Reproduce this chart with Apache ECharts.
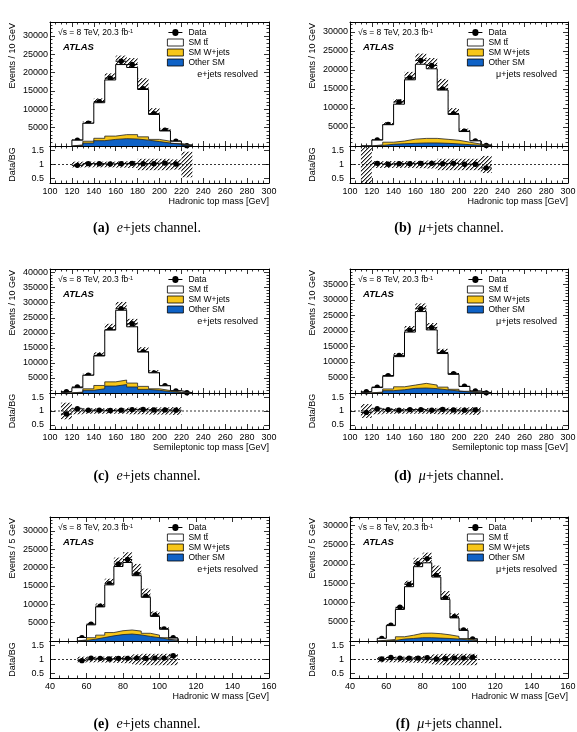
<!DOCTYPE html>
<html>
<head>
<meta charset="utf-8">
<script src="https://cdn.jsdelivr.net/npm/echarts@6/dist/echarts.min.js"></script>
<style>
  html, body { margin: 0; padding: 0; background: #fff; }
  #chart { width: 577px; height: 732px; }
</style>
</head>
<body>
<div id="chart"></div>
<script>
// bin low edges
const hadTopBinsE = [120, 130, 140, 150, 160, 170, 180, 190, 200, 210, 220]
const hadTopBinsMu = [110, 120, 130, 140, 150, 160, 170, 180, 190, 200, 210, 220]
const semiTopBins = [110, 120, 130, 140, 150, 160, 170, 180, 190, 200, 210, 220]
const hadWBins = [55, 60, 65, 70, 75, 80, 85, 90, 95, 100, 105]

// (a) e+jets, hadronic top mass
const dataA = [1600, 6200, 12100, 18500, 23100, 22200, 15600, 8800, 4300, 1300, 100]
const ttA = [1300, 4900, 9700, 15300, 19100, 18300, 12900, 6800, 2800, 600, 50]
const wjA = [150, 500, 650, 900, 1100, 1200, 900, 600, 500, 250, 100]
const othA = [150, 800, 1450, 1800, 2000, 1900, 1600, 1200, 800, 450, 100]
const ratioA = [0.97, 1.03, 1.03, 1.02, 1.03, 1.04, 1.03, 1.03, 1.05, 1.02, null]
const uncA = [0.1, 0.1, 0.1, 0.1, 0.11, 0.12, 0.2, 0.2, 0.2, 0.18, 0.45]

// (b) mu+jets, hadronic top mass
const dataB = [null, 1600, 5650, 11600, 17900, 22500, 21150, 15000, 8500, 3900, 1350, 150]
const ttB = [10, 1250, 4600, 9700, 15600, 19500, 18300, 12950, 6800, 2800, 850, 100]
const wjB = [5, 150, 550, 700, 1100, 1200, 1200, 1050, 950, 650, 300, 100]
const othB = [5, 150, 450, 600, 700, 800, 800, 700, 550, 350, 200, 50]
const ratioB = [null, 1.04, 1.01, 1.03, 1.03, 1.04, 1.04, 1.03, 1.04, 1.01, 1.01, 0.88]
const uncB = [1.0, 0.12, 0.12, 0.12, 0.12, 0.13, 0.14, 0.2, 0.2, 0.2, 0.2, 0.3]

// (c) e+jets, semileptonic top mass
const dataC = [450, 2000, 5900, 12500, 21000, 28000, 23000, 13700, 6700, 2450, 700, 60]
const ttC = [450, 1450, 4500, 9800, 17200, 23200, 18700, 11400, 5300, 1600, 450, 50]
const wjC = [30, 150, 500, 1100, 1400, 1500, 1300, 1000, 500, 350, 150, 30]
const othC = [20, 150, 900, 1400, 2300, 2800, 2000, 1200, 900, 450, 150, 20]
const ratioC = [0.89, 1.08, 1.03, 1.03, 1.02, 1.03, 1.05, 1.06, 1.04, 1.04, 1.03, null]
const uncC = [0.3, 0.12, 0.1, 0.1, 0.1, 0.1, 0.12, 0.12, 0.13, 0.13, 0.14, 0]

// (d) mu+jets, semileptonic top mass
const dataD = [400, 1900, 5600, 12100, 20200, 27100, 21000, 13000, 6200, 2150, 620, 50]
const ttD = [370, 1450, 4100, 9700, 17050, 23100, 17750, 10800, 4800, 1550, 400, 70]
const wjD = [30, 200, 550, 950, 1050, 1500, 1150, 900, 550, 250, 100, 20]
const othD = [20, 100, 750, 1050, 1500, 1600, 1400, 1000, 650, 300, 100, 10]
const ratioD = [0.95, 1.08, 1.05, 1.03, 1.05, 1.05, 1.03, 1.06, 1.04, 1.03, 1.04, null]
const uncD = [0.25, 0.12, 0.1, 0.1, 0.1, 0.1, 0.11, 0.12, 0.12, 0.13, 0.14, 0]

// (e) e+jets, hadronic W mass
const dataE = [900, 4600, 9500, 15600, 21000, 22200, 18300, 12200, 7000, 3300, 900]
const ttE = [650, 3500, 7700, 13000, 17500, 18400, 15100, 9800, 5100, 2300, 500]
const wjE = [150, 400, 650, 900, 1050, 1100, 1050, 850, 700, 400, 150]
const othE = [150, 500, 950, 1400, 1750, 1900, 1650, 1250, 900, 500, 150]
const ratioE = [0.96, 1.05, 1.04, 1.02, 1.04, 1.04, 1.05, 1.04, 1.05, 1.05, 1.13]
const uncE = [0.1, 0.1, 0.1, 0.11, 0.12, 0.13, 0.18, 0.2, 0.2, 0.2, 0.2]

// (f) mu+jets, hadronic W mass
const dataF = [650, 4100, 8750, 14700, 20100, 21400, 17000, 11200, 6300, 2850, 500]
const ttF = [500, 3600, 7100, 12600, 17300, 18250, 14700, 9200, 4800, 2100, 350]
const wjF = [150, 250, 600, 850, 1150, 1200, 1150, 950, 700, 350, 100]
const othF = [50, 150, 500, 650, 850, 850, 750, 650, 500, 300, 100]
const ratioF = [1.02, 1.07, 1.05, 1.05, 1.05, 1.06, 1.02, 1.03, 1.05, 1.05, 1.08]
const uncF = [0.1, 0.1, 0.1, 0.11, 0.12, 0.13, 0.18, 0.2, 0.2, 0.2, 0.2]

// axis ranges / ticks
const mainYMax = [33800, 32600, 41200, 39900, 33800, 32200]
const ratioTicks = [0.5, 1, 1.5]
const ratioMin = 0.35
const ratioMax = 1.65

const fontSans = '"Liberation Sans", Arial, sans-serif'
const fontSerif = '"Liberation Serif", "Times New Roman", serif'
const colLeft = [50, 350]
const colWidth = [219, 218]
const rowTop = [22, 269, 517]
const mainH = 124
const ratioH = [37, 36, 37]
const captionX = [147, 449]
const captionY = [228, 476, 724]
const yellow = '#f7c619'
const blue = '#0f62c6'

const panels = [
  { tag: 'a', chan: 'e', col: 0, row: 0, bins: hadTopBinsE, w: 10, xMin: 100, xMax: 300, data: dataA, tt: ttA, wj: wjA, oth: othA, ratio: ratioA, unc: uncA, xTitle: 'Hadronic top mass [GeV]', yTitle: 'Events / 10 GeV' },
  { tag: 'b', chan: 'μ', col: 1, row: 0, bins: hadTopBinsMu, w: 10, xMin: 100, xMax: 300, data: dataB, tt: ttB, wj: wjB, oth: othB, ratio: ratioB, unc: uncB, xTitle: 'Hadronic top mass [GeV]', yTitle: 'Events / 10 GeV' },
  { tag: 'c', chan: 'e', col: 0, row: 1, bins: semiTopBins, w: 10, xMin: 100, xMax: 300, data: dataC, tt: ttC, wj: wjC, oth: othC, ratio: ratioC, unc: uncC, xTitle: 'Semileptonic top mass [GeV]', yTitle: 'Events / 10 GeV' },
  { tag: 'd', chan: 'μ', col: 1, row: 1, bins: semiTopBins, w: 10, xMin: 100, xMax: 300, data: dataD, tt: ttD, wj: wjD, oth: othD, ratio: ratioD, unc: uncD, xTitle: 'Semileptonic top mass [GeV]', yTitle: 'Events / 10 GeV' },
  { tag: 'e', chan: 'e', col: 0, row: 2, bins: hadWBins, w: 5, xMin: 40, xMax: 160, data: dataE, tt: ttE, wj: wjE, oth: othE, ratio: ratioE, unc: uncE, xTitle: 'Hadronic W mass [GeV]', yTitle: 'Events / 5 GeV' },
  { tag: 'f', chan: 'μ', col: 1, row: 2, bins: hadWBins, w: 5, xMin: 40, xMax: 160, data: dataF, tt: ttF, wj: wjF, oth: othF, ratio: ratioF, unc: uncF, xTitle: 'Hadronic W mass [GeV]', yTitle: 'Events / 5 GeV' }
]

// diagonal hatching used for the uncertainty bands
const hatch = document.createElement('canvas')
hatch.width = 4
hatch.height = 4
const hctx = hatch.getContext('2d')
for (let i = 0; i < 4; i++) {
  hctx.fillStyle = 'rgba(20,20,20,0.95)'
  hctx.fillRect(i, 3 - i, 1, 1)
  hctx.fillStyle = 'rgba(20,20,20,0.4)'
  hctx.fillRect(i, (4 - i) % 4, 1, 1)
}
const hatchFill = { image: hatch, repeat: 'repeat' }

function sum(...arrs) {
  return arrs[0].map((_, i) => arrs.reduce((s, a) => s + (a[i] || 0), 0))
}

// histogram outline points for a step line
function stepPoints(bins, w, vals) {
  const pts = [[bins[0], 0]]
  bins.forEach((b, i) => pts.push([b, vals[i]]))
  pts.push([bins[bins.length - 1] + w, 0])
  return pts
}

function bandRender(params, api) {
  const a = api.coord([api.value(0), api.value(3)])
  const b = api.coord([api.value(1), api.value(2)])
  return {
    type: 'rect',
    shape: { x: a[0], y: a[1], width: b[0] - a[0], height: b[1] - a[1] },
    style: { fill: hatchFill }
  }
}

function pointRender(params, api) {
  const c = api.coord([api.value(0), api.value(1)])
  const l = api.coord([api.value(0) - api.value(2), api.value(1)])
  const r = api.coord([api.value(0) + api.value(2), api.value(1)])
  return {
    type: 'group',
    children: [
      { type: 'line', shape: { x1: l[0], y1: c[1], x2: r[0], y2: c[1] }, style: { stroke: '#000', lineWidth: 1 } },
      { type: 'circle', shape: { cx: c[0], cy: c[1], r: 2.7 }, style: { fill: '#000' } }
    ]
  }
}

function xAx(gridIndex, P, position, labels) {
  return {
    type: 'value', gridIndex, position, min: P.xMin, max: P.xMax, interval: 20,
    axisLine: { show: true, onZero: false, lineStyle: { color: '#000', width: 1 } },
    axisTick: { show: true, inside: true, length: 5, lineStyle: { color: '#000', width: 0.8 } },
    minorTick: { show: true, splitNumber: 4, length: 2.5, lineStyle: { color: '#000', width: 0.8 } },
    axisLabel: { show: labels, margin: 4, fontSize: 9, color: '#000', fontFamily: fontSans },
    splitLine: { show: false }
  }
}

function yMainAx(gridIndex, max, position, labels) {
  return {
    type: 'value', gridIndex, position, min: 0, max, interval: 5000,
    axisLine: { show: true, onZero: false, lineStyle: { color: '#000', width: 1 } },
    axisTick: { show: true, inside: true, length: 5, lineStyle: { color: '#000', width: 0.8 } },
    minorTick: { show: true, splitNumber: 5, length: 2.5, lineStyle: { color: '#000', width: 0.8 } },
    axisLabel: {
      show: labels, margin: 2, fontSize: 9, color: '#000', fontFamily: fontSans,
      formatter: (v) => (v > 0 && v % 5000 === 0 ? String(v) : '')
    },
    splitLine: { show: false }
  }
}

function yRatioAx(gridIndex, position, labels) {
  return {
    type: 'value', gridIndex, position, min: ratioMin, max: ratioMax,
    axisLine: { show: true, onZero: false, lineStyle: { color: '#000', width: 1 } },
    axisTick: { show: true, inside: true, length: 5, customValues: ratioTicks, lineStyle: { color: '#000', width: 0.8 } },
    axisLabel: {
      show: labels, margin: 6, fontSize: 9, color: '#000', fontFamily: fontSans,
      customValues: ratioTicks, formatter: (v) => String(v)
    },
    splitLine: { show: false }
  }
}

const dataIcon = 'path://M0,3H4.5A3.5,3.5,0,0,1,11.5,3H16V4H11.5A3.5,3.5,0,0,1,4.5,4H0Z'

const grid = []
const xAxis = []
const yAxis = []
const series = []
const legend = []
const graphic = []

panels.forEach((P, p) => {
  const left = colLeft[P.col]
  const width = colWidth[P.col]
  const top = rowTop[P.row]
  const rH = ratioH[P.row]
  grid.push({ left, top, width, height: mainH, outerBoundsMode: 'none' })
  grid.push({ left, top: top + mainH, width, height: rH, outerBoundsMode: 'none' })

  xAxis.push(xAx(2 * p, P, 'bottom', false), xAx(2 * p, P, 'top', false))
  xAxis.push(xAx(2 * p + 1, P, 'bottom', true), xAx(2 * p + 1, P, 'top', false))
  yAxis.push(yMainAx(2 * p, mainYMax[p], 'left', true), yMainAx(2 * p, mainYMax[p], 'right', false))
  yAxis.push(yRatioAx(2 * p + 1, 'left', true), yRatioAx(2 * p + 1, 'right', false))

  const mi = 4 * p
  const ri = 4 * p + 2
  const total = sum(P.tt, P.wj, P.oth)
  const lineBase = {
    type: 'line', step: 'end', symbol: 'none', showSymbol: false, silent: true,
    xAxisIndex: mi, yAxisIndex: mi, lineStyle: { color: '#000', width: 1 }
  }
  series.push(Object.assign({}, lineBase, {
    name: 'SM tt\u0304', data: stepPoints(P.bins, P.w, total),
    itemStyle: { color: '#fff' }, areaStyle: { color: '#fff', opacity: 1 }
  }))
  series.push(Object.assign({}, lineBase, {
    name: 'SM W+jets', data: stepPoints(P.bins, P.w, sum(P.wj, P.oth)),
    itemStyle: { color: yellow }, areaStyle: { color: yellow, opacity: 1 }, lineStyle: { color: '#222', width: 0.8 }
  }))
  series.push(Object.assign({}, lineBase, {
    name: 'Other SM', data: stepPoints(P.bins, P.w, P.oth),
    itemStyle: { color: blue }, areaStyle: { color: blue, opacity: 1 }, lineStyle: { color: '#222', width: 0.8 }
  }))
  // MC uncertainty band, main panel
  series.push({
    type: 'custom', silent: true, xAxisIndex: mi, yAxisIndex: mi, renderItem: bandRender,
    data: P.bins.map((b, i) => [b, b + P.w, total[i] * (1 - P.unc[i]), total[i] * (1 + P.unc[i])])
  })
  // data points
  series.push({
    type: 'custom', name: 'Data', silent: true, xAxisIndex: mi, yAxisIndex: mi, renderItem: pointRender,
    itemStyle: { color: '#000' },
    data: P.bins.map((b, i) => (P.data[i] == null ? null : [b + P.w / 2, P.data[i], P.w / 2])).filter(Boolean)
  })

  // ratio panel
  series.push({
    type: 'custom', silent: true, xAxisIndex: ri, yAxisIndex: ri, renderItem: bandRender,
    data: P.bins.map((b, i) => [b, b + P.w, Math.max(1 - P.unc[i], ratioMin), Math.min(1 + P.unc[i], ratioMax)])
  })
  series.push({
    type: 'line', silent: true, symbol: 'none', xAxisIndex: ri, yAxisIndex: ri,
    data: [[P.xMin, 1], [P.xMax, 1]],
    lineStyle: { color: '#000', width: 0.8, type: [2, 2] }
  })
  series.push({
    type: 'custom', silent: true, xAxisIndex: ri, yAxisIndex: ri, renderItem: pointRender,
    data: P.bins.map((b, i) => (P.ratio[i] == null ? null : [b + P.w / 2, P.ratio[i], P.w / 2])).filter(Boolean)
  })

  legend.push({
    left: left + 117, top: top + 5.5, orient: 'vertical', padding: 0, itemGap: 0,
    itemWidth: 16, itemHeight: 7, selectedMode: false,
    textStyle: { fontSize: 8.5, lineHeight: 10, color: '#000', fontFamily: fontSans },
    data: [
      { name: 'Data', icon: dataIcon, itemStyle: { color: '#000', borderWidth: 0 } },
      { name: 'SM tt\u0304', icon: 'rect', itemStyle: { color: '#fff', borderColor: '#000', borderWidth: 0.8 } },
      { name: 'SM W+jets', icon: 'rect', itemStyle: { color: yellow, borderColor: '#000', borderWidth: 0.8 } },
      { name: 'Other SM', icon: 'rect', itemStyle: { color: blue, borderColor: '#000', borderWidth: 0.8 } }
    ]
  })

  const txt = (x, y, style, extra) => graphic.push(Object.assign({
    type: 'text', x, y, silent: true,
    style: Object.assign({ fill: '#000', fontFamily: fontSans, fontSize: 9 }, style)
  }, extra || {}))

  txt(left + 8, top + 11, {
    text: '{t|√s = 8 TeV, 20.3 fb}{s|-1}', verticalAlign: 'middle',
    rich: {
      t: { fontSize: 8.5, fontFamily: fontSans, lineHeight: 10 },
      s: { fontSize: 5.5, fontFamily: fontSans, lineHeight: 10, verticalAlign: 'top' }
    }
  })
  txt(left + 13, top + 25, { text: 'ATLAS', fontSize: 9.5, fontWeight: 'bold', fontStyle: 'italic', verticalAlign: 'middle' })
  txt(left + width - 11, top + 53, { text: P.chan + '+jets resolved', fontSize: 9, align: 'right', verticalAlign: 'middle' })
  txt(left - 37, top + 1, { text: P.yTitle, fontSize: 9, align: 'right', verticalAlign: 'middle' }, { rotation: Math.PI / 2 })
  txt(left - 37, top + mainH + rH / 2, { text: 'Data/BG', fontSize: 9, align: 'center', verticalAlign: 'middle' }, { rotation: Math.PI / 2 })
  txt(left + width, top + mainH + rH + 19, { text: P.xTitle, fontSize: 9, align: 'right', verticalAlign: 'middle' })
  txt(captionX[P.col], captionY[P.row], {
    text: '{b|(' + P.tag + ')}   {i|' + P.chan + '}{r|+jets channel.}',
    align: 'center', verticalAlign: 'middle',
    rich: {
      b: { fontFamily: fontSerif, fontSize: 14, fontWeight: 'bold' },
      i: { fontFamily: fontSerif, fontSize: 14, fontStyle: 'italic' },
      r: { fontFamily: fontSerif, fontSize: 14 }
    }
  })
})

const chart = echarts.init(document.getElementById('chart'))
chart.setOption({
  animation: false,
  backgroundColor: '#fff',
  grid,
  xAxis,
  yAxis,
  legend,
  graphic: { elements: graphic },
  series
})
</script>
</body>
</html>
